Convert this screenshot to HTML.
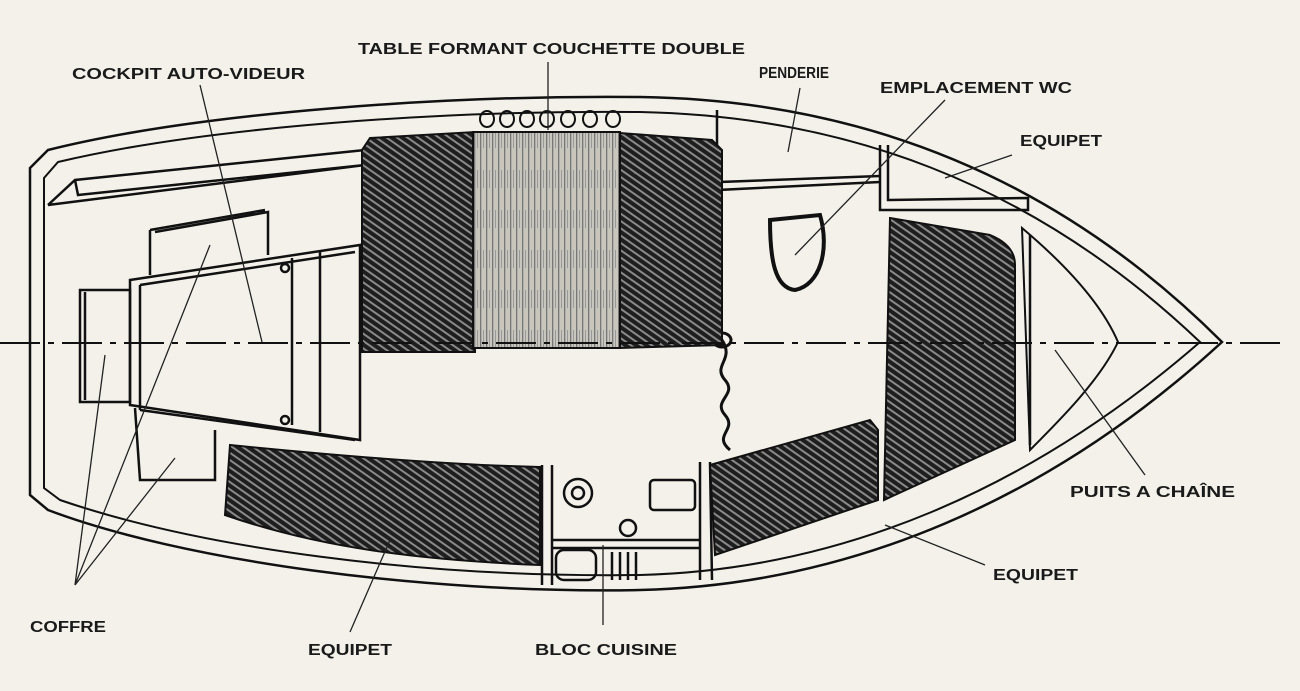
<!DOCTYPE html>
<html><head><meta charset="utf-8"><style>
html,body{margin:0;padding:0;background:#f3f1ea;}
svg{display:block}
text{font-family:"Liberation Sans",sans-serif;font-weight:bold;font-size:16px;fill:#1a1a1a}
</style></head><body>
<svg width="1300" height="691" viewBox="0 0 1300 691" xmlns="http://www.w3.org/2000/svg">
<defs>
<pattern id="h" width="6" height="6" patternUnits="userSpaceOnUse" patternTransform="rotate(-55)">
<rect width="6" height="6" fill="#1e1e1e"/><rect width="2" height="6" fill="#8a8a8a"/>
</pattern>
<pattern id="w" width="6" height="40" patternUnits="userSpaceOnUse">
<rect width="6" height="40" fill="#c9c6bd"/><rect width="1.3" height="40" fill="#777"/><rect x="3" y="10" width="1" height="18" fill="#999"/>
</pattern>
</defs>
<rect width="1300" height="691" fill="#f3f1ea"/>
<g fill="none" stroke="#111" stroke-width="2.5">
<path d="M30,168 L48,150 C200,112 450,95 640,97 C850,100 1050,170 1222,342 C1050,500 850,585 640,590 C420,594 180,560 48,510 L30,495 Z"/>
<path d="M44,178 L58,162 C210,126 450,110 640,112 C840,116 1030,180 1200,342 C1030,490 840,570 640,575 C420,578 200,548 60,500 L44,488 Z" stroke-width="2"/>
<path d="M48,205 L75,180 L365,150 M75,180 L78,195 L365,165 M48,205 L365,165"/>
<path d="M150,230 L150,275 M155,232 L268,212 L268,255 M150,230 L265,210"/>
<path d="M130,280 L360,245 L360,440 L130,405 Z"/>
<path d="M140,285 L140,410 M140,285 L355,252 M140,410 L355,440"/>
<path d="M292,258 L292,425 M320,252 L320,432"/>
<circle cx="285" cy="268" r="4"/><circle cx="285" cy="420" r="4"/>
<path d="M80,290 L130,290 L130,402 L80,402 Z M85,292 L85,400"/>
<path d="M135,408 L140,480 L215,480 L215,430"/>
<path d="M717,110 L717,190 L880,182 M717,190 L720,182 L880,176"/>
<path d="M880,145 L880,210 L1028,210 L1028,198 L888,200 L888,145"/>
<path d="M1022,228 C1060,260 1100,300 1118,342 C1100,380 1060,420 1030,450 Z" stroke-width="2"/>
<path d="M1030,235 L1030,445"/>
<path d="M542,465 L542,585 M552,465 L552,585 M700,462 L700,580 M710,462 L712,580"/>
<path d="M552,540 L700,540 M552,548 L700,548"/>
<rect x="650" y="480" width="45" height="30" rx="4"/>
<rect x="556" y="550" width="40" height="30" rx="8"/>
<path d="M612,552 L612,580 M620,552 L620,580 M628,552 L628,580 M636,552 L636,580"/>
<circle cx="578" cy="493" r="14"/><circle cx="578" cy="493" r="6"/>
<circle cx="628" cy="528" r="8"/>
<path d="M770,220 L820,215 C830,250 820,285 795,290 C775,288 770,260 770,220 Z" stroke-width="4"/>
<path d="M722,340 C735,360 712,365 725,380 C738,395 712,400 725,415 C738,430 712,435 730,450" stroke-width="3"/>
<ellipse cx="722" cy="340" rx="9" ry="7" stroke-width="3"/>
<g stroke-width="2"><ellipse cx="487" cy="119" rx="7" ry="8"/><ellipse cx="507" cy="119" rx="7" ry="8"/><ellipse cx="527" cy="119" rx="7" ry="8"/><ellipse cx="547" cy="119" rx="7" ry="8"/><ellipse cx="568" cy="119" rx="7" ry="8"/><ellipse cx="590" cy="119" rx="7" ry="8"/><ellipse cx="613" cy="119" rx="7" ry="8"/></g>
</g>
<path d="M370,138 L475,132 L475,352 L362,352 L362,150 Z" fill="url(#h)" stroke="#111" stroke-width="2"/>
<rect x="473" y="132" width="147" height="216" fill="url(#w)" stroke="#111" stroke-width="2"/>
<path d="M620,133 L712,140 L722,150 L722,345 L620,348 Z" fill="url(#h)" stroke="#111" stroke-width="2"/>
<path d="M890,218 L990,235 Q1015,245 1015,265 L1015,440 L884,500 Z" fill="url(#h)" stroke="#111" stroke-width="2"/>
<path d="M230,445 C330,455 450,465 540,467 L540,565 C420,560 320,548 225,515 Z" fill="url(#h)" stroke="#111" stroke-width="2"/>
<path d="M710,465 L870,420 L878,430 L878,500 L715,555 Z" fill="url(#h)" stroke="#111" stroke-width="2"/>
<path d="M0,343 L1285,343" stroke="#111" stroke-width="2" stroke-dasharray="40,8,6,8" fill="none"/>
<g stroke="#222" stroke-width="1.3" fill="none">
<path d="M200,85 L262,342"/>
<path d="M75,585 L105,355 M75,585 L210,245 M75,585 L175,458"/>
<path d="M548,62 L548,130"/>
<path d="M800,88 L788,152"/>
<path d="M945,100 L795,255"/>
<path d="M1012,155 L945,178"/>
<path d="M1145,475 L1055,350"/>
<path d="M985,565 L885,525"/>
<path d="M350,632 L390,540"/>
<path d="M603,625 L603,545"/>
</g>
<text x="358" y="54" textLength="387" lengthAdjust="spacingAndGlyphs">TABLE FORMANT COUCHETTE DOUBLE</text>
<text x="72" y="79" textLength="233" lengthAdjust="spacingAndGlyphs">COCKPIT AUTO-VIDEUR</text>
<text x="759" y="78" textLength="70" lengthAdjust="spacingAndGlyphs">PENDERIE</text>
<text x="880" y="93" textLength="192" lengthAdjust="spacingAndGlyphs">EMPLACEMENT WC</text>
<text x="1020" y="146" textLength="82" lengthAdjust="spacingAndGlyphs">EQUIPET</text>
<text x="1070" y="497" textLength="165" lengthAdjust="spacingAndGlyphs">PUITS A CHAÎNE</text>
<text x="993" y="580" textLength="85" lengthAdjust="spacingAndGlyphs">EQUIPET</text>
<text x="30" y="632" textLength="76" lengthAdjust="spacingAndGlyphs">COFFRE</text>
<text x="308" y="655" textLength="84" lengthAdjust="spacingAndGlyphs">EQUIPET</text>
<text x="535" y="655" textLength="142" lengthAdjust="spacingAndGlyphs">BLOC CUISINE</text>
</svg>
</body></html>
